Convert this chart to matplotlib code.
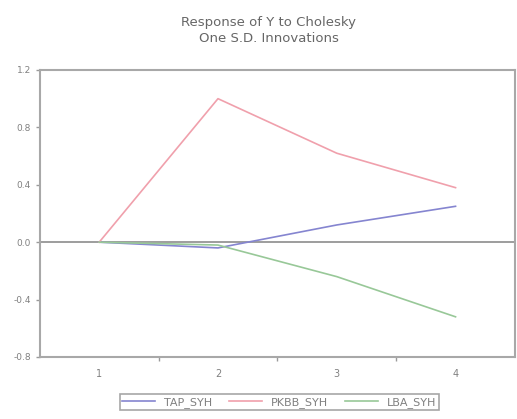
import matplotlib.pyplot as plt

periodos = [1, 2, 3, 4]
tap_syh = [0.0, -0.04, 0.12, 0.25]
pkbb_syh = [0.0, 1.0, 0.62, 0.38]
lba_syh = [0.0, -0.02, -0.24, -0.52]
yticks = [-0.8, -0.4, 0.0, 0.4, 0.8, 1.2]

fig = plt.figure(figsize=(5.17, 4.19), dpi=100)
ax = fig.add_axes([0.077, 0.148, 0.919, 0.685])

cinza = '#9a9a9a'
ax.axhline(0, color='#8c8c8c', lw=1.2, zorder=1)
ax.plot(periodos, tap_syh, color='#8585d0', lw=1.2, label='TAP_SYH')
ax.plot(periodos, pkbb_syh, color='#f0a0ac', lw=1.2, label='PKBB_SYH')
ax.plot(periodos, lba_syh, color='#98c898', lw=1.2, label='LBA_SYH')

ax.set_xlim(0.5, 4.5)
ax.set_ylim(-0.8, 1.2)
ax.set_yticks(yticks)
ax.set_yticklabels(['%.1f' % v for v in yticks])
ax.set_xticks(periodos)
ax.set_xticks([1.5, 2.5, 3.5], minor=True)
ax.tick_params(axis='y', colors=cinza, labelcolor='#808080', labelsize=6.5, length=3, width=1)
ax.tick_params(axis='x', which='major', length=0, labelcolor='#808080', labelsize=7, pad=9)
ax.tick_params(axis='x', which='minor', colors=cinza, length=3, width=1)
for s in ax.spines.values():
    s.set_color('#a8a8a8')
    s.set_linewidth(1.5)

fig.suptitle('Response of Y to Cholesky\nOne S.D. Innovations', x=0.52, y=0.962, fontsize=9.5,
             color='#666666', linespacing=1.3)

leg = fig.legend(loc='lower center', bbox_to_anchor=(0.54, 0.022), ncol=3, fontsize=8, frameon=True,
                 fancybox=False, edgecolor='#909090', handlelength=3.0, handletextpad=0.8,
                 columnspacing=1.5, borderpad=0.2, borderaxespad=0)
leg.get_frame().set_linewidth(1.2)
for t in leg.get_texts():
    t.set_color('#808080')

fig.savefig('out.png', dpi=100)
